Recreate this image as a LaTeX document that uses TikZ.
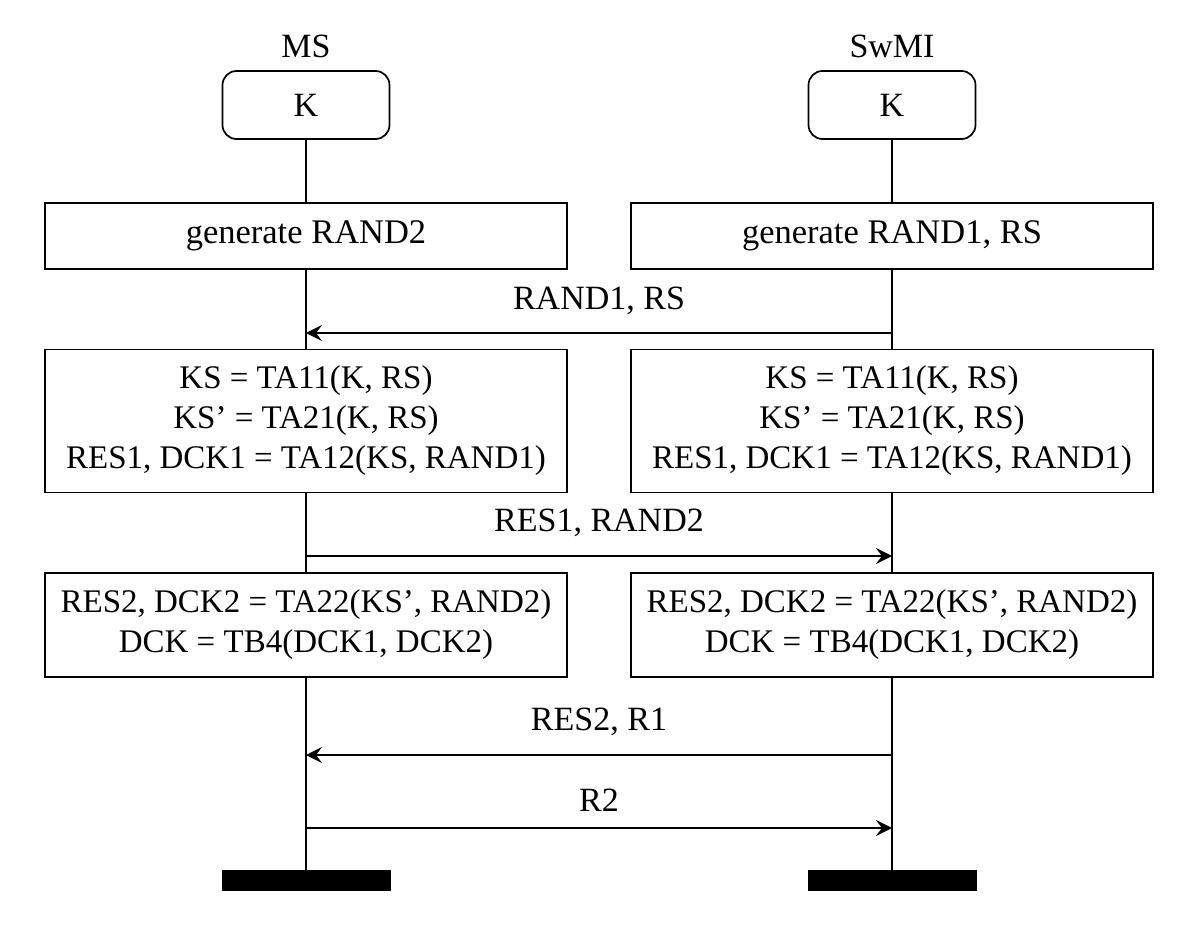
\documentclass[tikz,border=0pt]{standalone}
\usepackage{fontspec}
\setmainfont{Liberation Serif}
\usetikzlibrary{arrows.meta}
\tikzset{
  lbl/.style={font=\fontsize{34}{40}\selectfont, inner sep=0pt},
  keybox/.style={draw, line width=1.7pt, rounded corners=14pt, fill=white,
    minimum width=167pt, minimum height=68pt, inner sep=0pt,
    font=\fontsize{34}{40}\selectfont},
  procbox/.style={draw, line width=1.7pt, fill=white, align=center,
    minimum width=522pt, inner sep=0pt, font=\fontsize{33}{40}\selectfont},
  lifeline/.style={line width=1.7pt},
  msg/.style={line width=1.7pt, -{Stealth[length=16pt,width=16pt,inset=6pt]}},
  endbar/.style={fill=black, draw=none, minimum width=169pt, minimum height=21pt, inner sep=0pt, outer sep=0pt}
}
\begin{document}
\begin{tikzpicture}[x=1pt,y=-1pt]
\useasboundingbox (0,0) rectangle (1200,936);
% headers
\node[lbl] (msl) at (306,46) {MS};
\node[lbl] (swl) at (892,46) {SwMI};
\node[keybox] (k1) at (306,105) {K};
\node[keybox] (k2) at (892,105) {K};
% first boxes
\node[procbox, minimum height=66pt, font=\fontsize{34.5}{40}\selectfont] (g1) at (306,236) {generate RAND2};
\node[procbox, minimum height=66pt, font=\fontsize{34.5}{40}\selectfont] (g2) at (892,236) {generate RAND1, RS};
% key derivation boxes
\node[procbox, minimum height=143pt] (c1) at (306,421) {KS = TA11(K, RS)\\KS’ = TA21(K, RS)\\RES1, DCK1 = TA12(KS, RAND1)};
\node[procbox, minimum height=143pt] (c2) at (892,421) {KS = TA11(K, RS)\\KS’ = TA21(K, RS)\\RES1, DCK1 = TA12(KS, RAND1)};
% second derivation boxes
\node[procbox, minimum height=104pt] (d1) at (306,625) {RES2, DCK2 = TA22(KS’, RAND2)\\DCK = TB4(DCK1, DCK2)};
\node[procbox, minimum height=104pt] (d2) at (892,625) {RES2, DCK2 = TA22(KS’, RAND2)\\DCK = TB4(DCK1, DCK2)};
% end bars
\node[endbar] (e1) at (306.5,880.5) {};
\node[endbar] (e2) at (892.5,880.5) {};
% lifelines
\draw[lifeline] (k1.south) -- (g1.north);
\draw[lifeline] (g1.south) -- (c1.north);
\draw[lifeline] (c1.south) -- (d1.north);
\draw[lifeline] (d1.south) -- (e1.north -| d1.south);
\draw[lifeline] (k2.south) -- (g2.north);
\draw[lifeline] (g2.south) -- (c2.north);
\draw[lifeline] (c2.south) -- (d2.north);
\draw[lifeline] (d2.south) -- (e2.north -| d2.south);
% message end points on lifelines
\coordinate (m1l) at (306,333); \coordinate (m1r) at (892,333);
\coordinate (m2l) at (306,556); \coordinate (m2r) at (892,556);
\coordinate (m3l) at (306,755); \coordinate (m3r) at (892,755);
\coordinate (m4l) at (306,828); \coordinate (m4r) at (892,828);
% messages
\draw[msg] (m1r) -- (m1l);
\node[lbl] (t1) at (599,301) {RAND1, RS};
\draw[msg] (m2l) -- (m2r);
\node[lbl] (t2) at (599,523) {RES1, RAND2};
\draw[msg] (m3r) -- (m3l);
\node[lbl] (t3) at (599,722) {RES2, R1};
\draw[msg] (m4l) -- (m4r);
\node[lbl] (t4) at (599,800) {R2};
\end{tikzpicture}
\end{document}
